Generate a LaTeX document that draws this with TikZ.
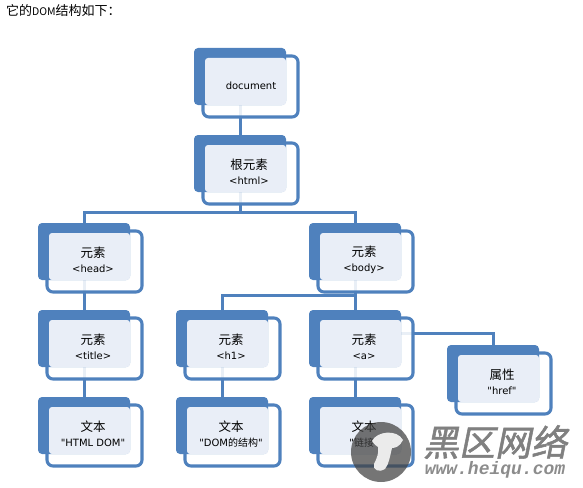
\documentclass[tikz,border=0pt]{standalone}
\usepackage{fontspec}
\newfontfamily\lat{DejaVu Sans}
\newfontfamily\cjk{Noto Sans CJK SC}
\newfontfamily\markcjk[FakeSlant=0.2,FakeBold=1.5]{Noto Sans CJK SC}
\newfontfamily\markurl{Liberation Mono}
\usetikzlibrary{calc,backgrounds}
\definecolor{domblue}{HTML}{4F81BD}
\definecolor{domlight}{HTML}{E9EEF7}
\tikzset{
  backbox/.style={fill=domblue,rounded corners=4pt,minimum width=92pt,minimum height=57pt,
                  inner sep=0pt,outer sep=0pt,anchor=north west},
  outerbox/.style={draw=domblue,line width=3.1pt,fill=white,fill opacity=.88,draw opacity=1,
                   rounded corners=6pt,minimum width=95pt,minimum height=61pt,
                   inner sep=0pt,outer sep=0pt,anchor=north west},
  lightbox/.style={fill=domlight,rounded corners=3pt,minimum width=81pt,minimum height=47pt,
                   inner sep=0pt,outer sep=0pt,anchor=north west},
  domtext/.style={align=center,inner sep=0pt,font=\lat\fontsize{10}{15}\selectfont},
  domline/.style={draw=domblue,line width=3pt},
}
\newcommand{\dombox}[4]{%
  \node[outerbox] (#1-out) at ($(#2,#3)+(9,8)$) {};
  \node[backbox] (#1) at (#2,#3) {};
  \node[lightbox] (#1-in) at ($(#2,#3)+(11,10)$) {};
  \node[domtext] (#1-txt) at ($(#2,#3)+(55,37)$) {#4};
}
\newcommand{\ch}[1]{{\cjk\fontsize{12.5}{15}\selectfont #1}}
\begin{document}
\begin{tikzpicture}[x=1pt,y=-1pt]

  \useasboundingbox (0,0) rectangle (583,487);

  \node[anchor=west,inner sep=0pt,font=\cjk\fontsize{13}{14}\selectfont] (caption) at (6,11)
    {它的{\fontsize{10.5}{14}\selectfont DOM}结构如下：};

  \dombox{doc}{194}{48}{}
  \node[domtext] (doc-label) at (251,86) {document};
  \dombox{root}{194}{135}{\ch{根元素}\\<html>}
  \dombox{head}{38}{223}{\ch{元素}\\<head>}
  \dombox{body}{309}{223}{\ch{元素}\\<body>}
  \dombox{title}{38}{310}{\ch{元素}\\<title>}
  \dombox{hone}{176}{310}{\ch{元素}\\<h1>}
  \dombox{anchor}{309}{310}{\ch{元素}\\<a>}
  \dombox{href}{447}{345}{\ch{属性}\\"href"}
  \dombox{texta}{38}{397}{\ch{文本}\\"HTML DOM"}
  \dombox{textb}{176}{397}{\ch{文本}\\"DOM{\cjk 的结构}"}
  \dombox{textc}{309}{397}{\ch{文本}\\"{\cjk 链接}"}

  \coordinate (anchor-side) at ($(anchor.east)+(0,-5)$);

  \begin{scope}[on background layer]
    \draw[domline] (doc.south) -- (root.north);
    \draw[domline] (root.south) -- ++(0,20) coordinate (rootbus);
    \draw[domline] (head.north) |- (rootbus) -| (body.north);
    \draw[domline] (head.south) -- (title.north);
    \draw[domline] (title.south) -- (texta.north);
    \draw[domline] (body.south) -- (anchor.north);
    \draw[domline] (hone.north) |- ($(body.south)!.5!(anchor.north)$);
    \draw[domline] (hone.south) -- (textb.north);
    \draw[domline] (anchor.south) -- (textc.north);
    \draw[domline] (anchor-side) -| (href.north);
  \end{scope}

  \fill[black!75,opacity=.72] (381,452) circle (30);
  \fill[white!92!black] (372,441) .. controls (377,431) and (397,429) .. (403,440)
    .. controls (400,446) and (396,448) .. (392,448)
    .. controls (390,456) and (389,464) .. (385,469)
    .. controls (380,473) and (372,470) .. (374,464)
    .. controls (377,458) and (379,453) .. (378,447)
    .. controls (376,446) and (374,444) .. (372,441) -- cycle;

  \node[anchor=center,inner sep=0pt,text=black!50,font=\markcjk\fontsize{36}{36}\selectfont]
    (markname) at (495,442) {黑区网络};
  \node[anchor=center,inner sep=0pt,text=black!45,font=\markurl\bfseries\itshape\fontsize{18}{18}\selectfont]
    (markurl) at (495,470) {www.heiqu.com};

\end{tikzpicture}
\end{document}
